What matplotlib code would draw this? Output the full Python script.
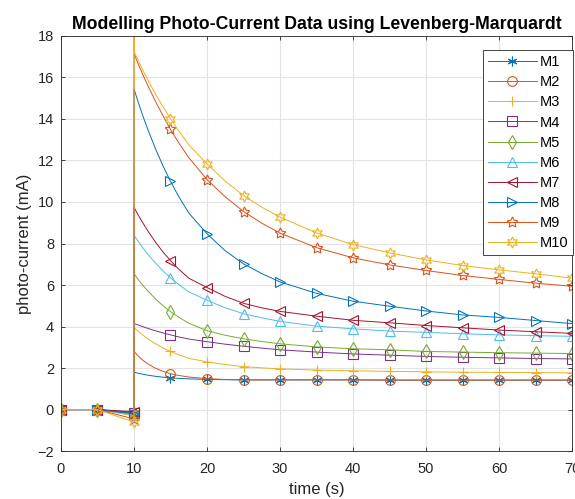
import matplotlib
matplotlib.use("Agg")
import matplotlib.pyplot as plt
from matplotlib.lines import Line2D

# ======================================================
# DATA
# ======================================================

labels = ["M1", "M2", "M3", "M4", "M5", "M6", "M7", "M8", "M9", "M10"]

t_pre = [0, 5, 10]
t_post = [10, 10.5, 11, 11.5, 12, 13, 14, 15, 16, 17.5, 20, 22.5, 25, 27.5,
          30, 35, 40, 45, 50, 55, 60, 65, 70]

pre = [
    [0, 0, -0.15],
    [0, 0, -0.20],
    [0, 0, -0.30],
    [0, 0, -0.15],
    [0, 0, -0.20],
    [0, 0, -0.25],
    [0, 0, -0.10],
    [0, 0, -0.20],
    [0, 0, -0.45],
    [0, 0, -0.60],
]

# top of the jump at t = 10
jump_top = [1.8, 2.8, 3.95, 4.15, 6.55, 8.4, 9.75, 15.45, 17.15, 18.0]

post = [
    [1.80, 1.755, 1.716, 1.682, 1.651, 1.60, 1.56, 1.53, 1.506, 1.48, 1.45, 1.44, 1.43, 1.43,
     1.43, 1.43, 1.43, 1.42, 1.42, 1.42, 1.42, 1.42, 1.42],
    [2.80, 2.61, 2.44, 2.30, 2.18, 1.98, 1.84, 1.73, 1.65, 1.57, 1.49, 1.45, 1.43, 1.43,
     1.43, 1.43, 1.43, 1.42, 1.42, 1.42, 1.42, 1.42, 1.42],
    [3.95, 3.79, 3.65, 3.51, 3.38, 3.16, 2.96, 2.80, 2.66, 2.47, 2.30, 2.17, 2.07, 2.01,
     1.96, 1.90, 1.87, 1.84, 1.82, 1.80, 1.79, 1.78, 1.77],
    [4.15, 4.085, 4.02, 3.96, 3.90, 3.79, 3.69, 3.60, 3.51, 3.40, 3.27, 3.15, 3.05, 2.96,
     2.88, 2.77, 2.68, 2.62, 2.56, 2.52, 2.49, 2.46, 2.44],
    [6.55, 6.31, 6.08, 5.87, 5.68, 5.31, 5.00, 4.72, 4.48, 4.16, 3.80, 3.58, 3.41, 3.28,
     3.17, 3.02, 2.93, 2.88, 2.80, 2.77, 2.74, 2.72, 2.70],
    [8.40, 8.14, 7.90, 7.66, 7.44, 7.04, 6.67, 6.35, 6.06, 5.67, 5.27, 4.90, 4.62, 4.42,
     4.25, 4.02, 3.89, 3.78, 3.72, 3.65, 3.60, 3.56, 3.53],
    [9.75, 9.42, 9.12, 8.83, 8.55, 8.04, 7.58, 7.18, 6.81, 6.33, 5.88, 5.45, 5.12, 4.90,
     4.73, 4.50, 4.30, 4.18, 4.05, 3.94, 3.83, 3.75, 3.67],
    [15.45, 14.90, 14.37, 13.87, 13.40, 12.52, 11.72, 11.0, 10.34, 9.47, 8.47, 7.65, 7.02, 6.55,
     6.15, 5.60, 5.22, 4.98, 4.75, 4.56, 4.44, 4.29, 4.14],
    [17.15, 16.72, 16.31, 15.91, 15.53, 14.81, 14.14, 13.5, 12.92, 12.14, 11.08, 10.25, 9.54, 8.98,
     8.50, 7.80, 7.31, 6.97, 6.70, 6.46, 6.27, 6.09, 5.94],
    [17.25, 16.88, 16.51, 16.16, 15.82, 15.17, 14.57, 14.02, 13.49, 12.76, 11.84, 11.0, 10.31, 9.75,
     9.27, 8.51, 7.95, 7.55, 7.21, 6.94, 6.73, 6.54, 6.33],
]

colors = ["#0072BD", "#D95319", "#EDB120", "#7E2F8E", "#77AC30",
          "#4DBEEE", "#A2142F", "#0072BD", "#D95319", "#EDB120"]

markers = [(6, 2, 0), "o", "+", "s", "d", "^", "<", ">", (5, 1, 0), (6, 1, 0)]

# ======================================================
# PLOT
# ======================================================

plt.rcParams["font.family"] = ["Liberation Sans", "DejaVu Sans"]

fig = plt.figure(figsize=(5.75, 4.99), dpi=100)
ax = fig.add_axes([0.106, 0.096, 0.889, 0.832])

t_all = t_pre + [10] + t_post
mark_idx = [0, 1, 2] + [i for i, t in enumerate(t_all) if i > 4 and t % 5 == 0]

handles = []
for i in range(len(labels)):
    y = pre[i] + [jump_top[i]] + post[i]
    style = dict(
        color=colors[i],
        marker=markers[i],
        markersize=8 if i >= 8 else 7,
        markerfacecolor="none",
        markeredgewidth=0.8,
        linewidth=0.7,
    )
    ax.plot(t_all, y, markevery=mark_idx, **style)
    handles.append(Line2D([], [], label=labels[i], **style))

ax.set_xlim(0, 70)
ax.set_ylim(-2, 18)
ax.set_xticks(range(0, 71, 10))
ax.set_yticks(range(-2, 19, 2))

ax.grid(True, color="#e3e3e3", linewidth=0.8)
ax.set_axisbelow(True)

ax.tick_params(direction="in", top=True, right=True, labelsize=10.5,
               colors="#262626", length=3, width=0.6)
ax.tick_params(axis="x", pad=8)
ax.tick_params(axis="y", pad=5)
for s in ax.spines.values():
    s.set_color("#262626")
    s.set_linewidth(0.6)

ax.set_title("Modelling Photo-Current Data using Levenberg-Marquardt",
             fontsize=12.7, fontweight="bold", pad=5)
ax.set_xlabel("time (s)", fontsize=12, color="#262626", labelpad=4)
ax.set_ylabel("photo-current (mA)", fontsize=12, color="#262626", labelpad=4)

leg = ax.legend(handles=handles, loc="upper right", bbox_to_anchor=(1.002, 0.966),
                fontsize=10.5, handlelength=3.4, handletextpad=0.15,
                labelspacing=0.42, borderpad=0.35, fancybox=False,
                framealpha=1, borderaxespad=0.0, numpoints=1)
leg.get_frame().set_edgecolor("#262626")
leg.get_frame().set_linewidth(0.6)

fig.savefig("out.png", dpi=100)
